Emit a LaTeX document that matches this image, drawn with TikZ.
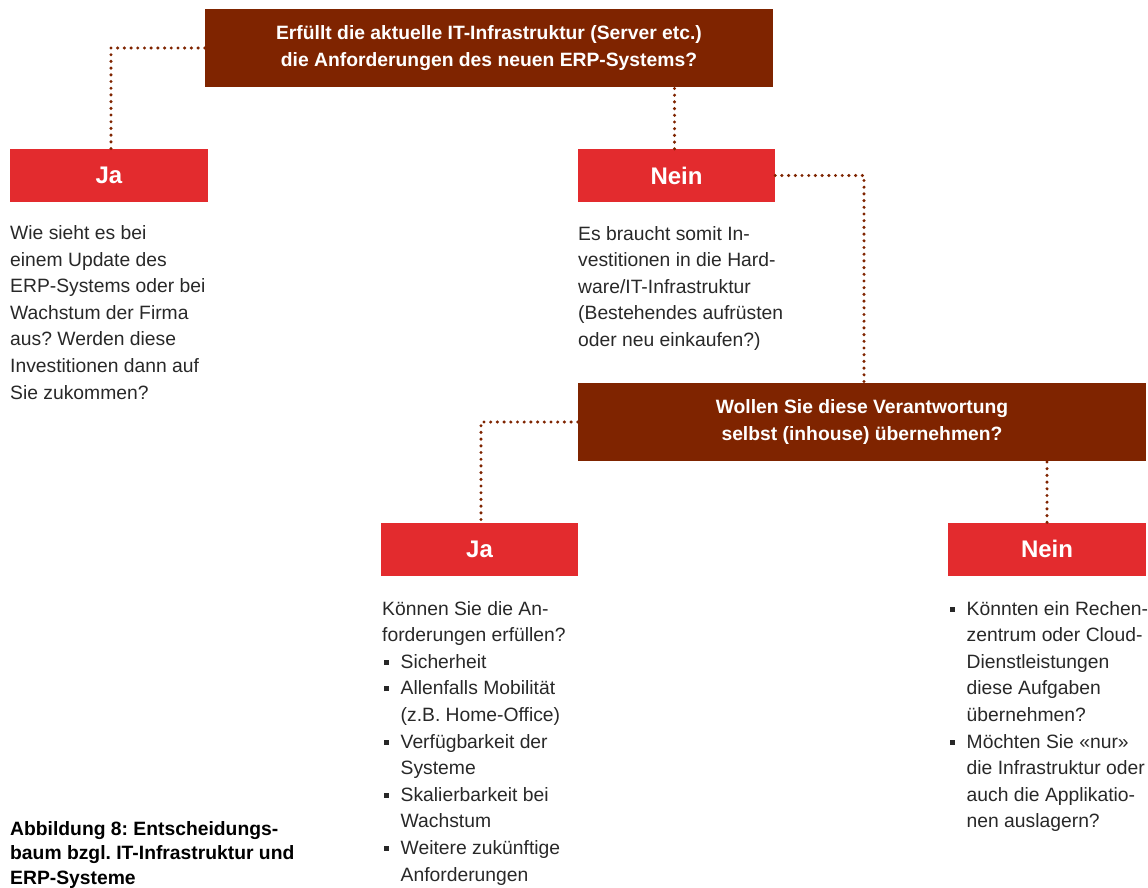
\documentclass[tikz,border=0pt]{standalone}
\usepackage{fontspec}
\setmainfont{Liberation Sans}
\frenchspacing
\definecolor{darkbox}{RGB}{127,36,0}
\definecolor{redbox}{RGB}{227,43,46}
\definecolor{bodytext}{RGB}{40,40,40}
\newcommand{\bul}{\makebox[18.5bp][l]{\hspace{2bp}\rule[3.5bp]{5bp}{5bp}}}
\newcommand{\ind}{\hspace*{18.5bp}}
\tikzset{
  qbox/.style={fill=darkbox, text=white, inner sep=0pt, align=center,
    font=\bfseries\fontsize{19.3bp}{26.8bp}\selectfont},
  abox/.style={fill=redbox, text=white, inner sep=0pt,
    font=\bfseries\fontsize{24bp}{28bp}\selectfont},
  body/.style={inner sep=0pt, anchor=base west, text=bodytext,
    font=\fontsize{19.3bp}{26.6bp}\selectfont},
  conn/.style={draw=darkbox, line width=3.4bp, line cap=round, dash pattern=on 0bp off 6.7bp},
}
\begin{document}
\begin{tikzpicture}[x=1bp, y=-1bp]
\useasboundingbox (0,0) rectangle (1148,888);

% boxes
\node[qbox, minimum width=568bp, minimum height=78bp] (top) at (489,48)
  {Erfüllt die aktuelle IT-Infrastruktur (Server etc.)\\die Anforderungen des neuen ERP-Systems?};
\node[abox, minimum width=198bp, minimum height=52.5bp] (ja1) at (109,175.25) {Ja};
\node[abox, minimum width=197bp, minimum height=53bp] (nein1) at (676.5,175.5) {Nein};
\node[qbox, minimum width=568bp, minimum height=78bp] (q2) at (862,422)
  {Wollen Sie diese Verantwortung\\selbst (inhouse) übernehmen?};
\node[abox, minimum width=197bp, minimum height=53bp] (ja2) at (479.5,549) {Ja};
\node[abox, minimum width=198bp, minimum height=53bp] (nein2) at (1047,549) {Nein};

% connectors
\draw[conn] (top.west) -| ([xshift=2bp]ja1.north);
\draw[conn] ([xshift=-2bp]nein1.north) -- ([xshift=-2bp]nein1.north |- top.south);
\draw[conn] (nein1.east) -| ([xshift=2bp]q2.north);
\draw[conn] (q2.west) -| ([xshift=1.5bp]ja2.north);
\draw[conn] (nein2.north) -- (nein2.north |- q2.south);

% texts
\node[body] (t1) at (10,239.5) {\parbox[t]{250bp}{\raggedright
  Wie sieht es bei\\einem Update des\\ERP-Systems oder bei\\Wachstum der Firma\\aus? Werden diese\\Investitionen dann auf\\Sie zukommen?}};
\node[body] (t2) at (578,240) {\parbox[t]{250bp}{\raggedright
  Es braucht somit In-\\vestitionen in die Hard-\\ware/IT-Infrastruktur\\(Bestehendes aufrüsten\\oder neu einkaufen?)}};
\node[body] (t3) at (382,615) {\parbox[t]{250bp}{\raggedright
  Können Sie die An-\\forderungen erfüllen?\\\bul Sicherheit\\\bul Allenfalls Mobilität\\\ind (z.B. Home-Office)\\\bul Verfügbarkeit der\\\ind Systeme\\\bul Skalierbarkeit bei\\\ind Wachstum\\\bul Weitere zukünftige\\\ind Anforderungen}};
\node[body] (t4) at (948,615) {\parbox[t]{250bp}{\raggedright
  \bul Könnten ein Rechen-\\\ind zentrum oder Cloud-\\\ind Dienstleistungen\\\ind diese Aufgaben\\\ind übernehmen?\\\bul Möchten Sie «nur»\\\ind die Infrastruktur oder\\\ind auch die Applikatio-\\\ind nen auslagern?}};
\node[body, text=black, font=\bfseries\fontsize{19.3bp}{24.6bp}\selectfont] (cap) at (10,835)
  {\parbox[t]{330bp}{\raggedright Abbildung 8: Entscheidungs-\\baum bzgl. IT-Infrastruktur und\\ERP-Systeme}};
\end{tikzpicture}
\end{document}
